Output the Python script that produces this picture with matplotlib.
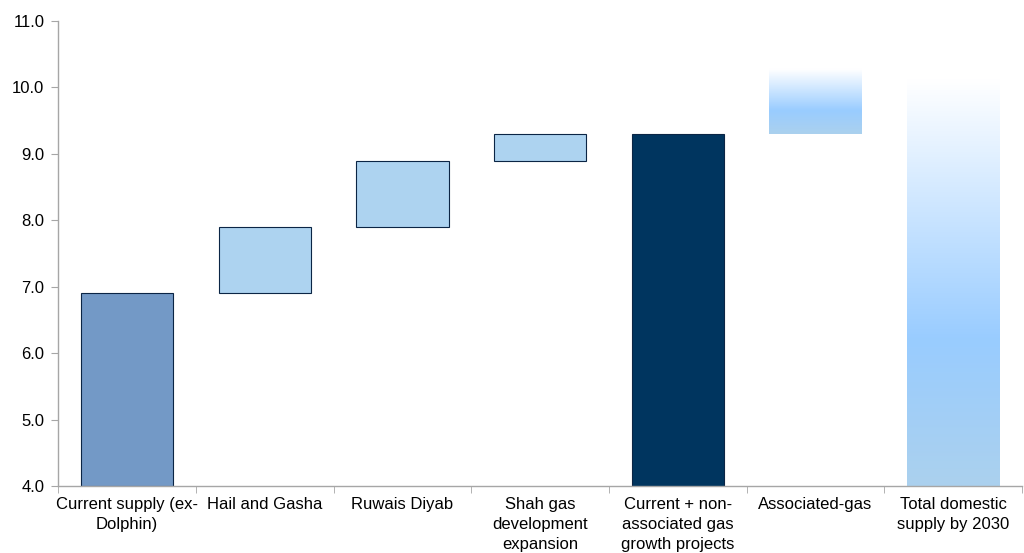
import numpy as np
import matplotlib
matplotlib.use("Agg")
import matplotlib.pyplot as plt
from matplotlib.colors import LinearSegmentedColormap

plt.rcParams['font.family'] = ['Liberation Sans', 'DejaVu Sans']

# ---------- DATA ----------
categories = [
    "Current supply (ex-\nDolphin)",
    "Hail and Gasha",
    "Ruwais Diyab",
    "Shah gas\ndevelopment\nexpansion",
    "Current + non-\nassociated gas\ngrowth projects",
    "Associated-gas",
    "Total domestic\nsupply by 2030",
]
bottoms = [4.0, 6.9, 7.9, 8.9, 4.0, 9.3, 4.0]
tops = [6.9, 7.9, 8.9, 9.3, 9.3, 10.3, 10.3]
styles = ["base", "step", "step", "step", "total", "grad", "grad"]
# ---------------------------

face = {"base": "#7399C6", "step": "#ADD3F0", "total": "#00355F"}
grad_cmap = LinearSegmentedColormap.from_list(
    "fade", [(0.0, "#ABD1EE"), (0.35, "#99CCFF"), (0.97, "#FFFFFF"), (1.0, "#FFFFFF")])

fig = plt.figure(figsize=(10.24, 5.53), dpi=100)
ax = fig.add_axes([0.057, 0.121, 0.941, 0.841])

width = 0.67
x = np.arange(len(categories))

for i, (b, t, s) in enumerate(zip(bottoms, tops, styles)):
    if s == "grad":
        grad = np.linspace(0, 1, 256).reshape(-1, 1)
        ax.imshow(grad, cmap=grad_cmap, origin="lower", aspect="auto",
                  extent=(i - width / 2, i + width / 2, b, t), zorder=2)
    else:
        ax.bar(i, t - b, bottom=b, width=width, color=face[s],
               edgecolor="#0B2545", linewidth=0.8, zorder=2)

ax.set_xlim(-0.5, len(categories) - 0.5)
ax.set_ylim(4.0, 11.0)
ax.set_yticks(np.arange(4, 11.01, 1.0))
ax.set_yticklabels([f"{v:.1f}" for v in np.arange(4, 11.01, 1.0)], fontsize=12)

# category labels centred, tick marks on the boundaries
ax.set_xticks(x)
ax.set_xticklabels(categories, fontsize=12, linespacing=1.4)
ax.tick_params(axis="x", length=0, pad=8)
ax.set_xticks(np.arange(-0.5, len(categories) + 0.5, 1.0), minor=True)
ax.tick_params(axis="x", which="minor", length=5, color="#A6A6A6", direction="out")
ax.tick_params(axis="y", length=5, color="#A6A6A6", direction="out", pad=5)

for side in ["top", "right"]:
    ax.spines[side].set_visible(False)
for side in ["left", "bottom"]:
    ax.spines[side].set_color("#A6A6A6")
    ax.spines[side].set_linewidth(1.0)

fig.savefig("out.png", dpi=100)
plt.close(fig)
